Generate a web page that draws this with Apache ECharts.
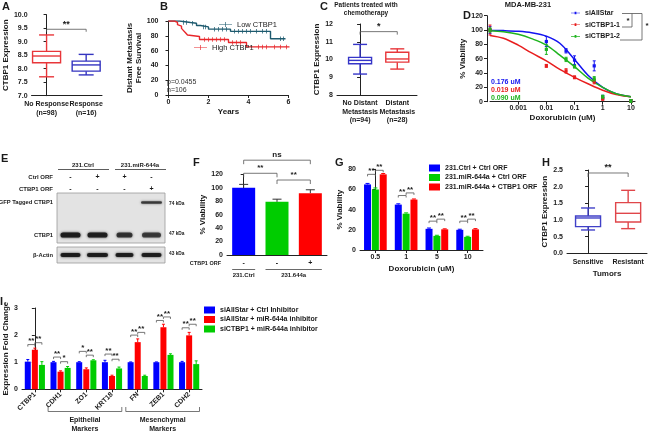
<!DOCTYPE html>
<html>
<head>
<meta charset="utf-8">
<script src="https://cdn.jsdelivr.net/npm/echarts@6.0.0/dist/echarts.min.js"></script>
<style>
html,body{margin:0;padding:0;background:#ffffff;}
#chart{width:650px;height:431px;}
</style>
</head>
<body>
<div id="chart"></div>
<script>
/* ======================= DATA ======================= */
// Panel A – CTBP1 expression box plot
const aLabels = ['No Response\n(n=98)', 'Response\n(n=16)'];
const aMin = [7.70, 7.77];
const aQ1  = [8.22, 7.91];
const aMed = [8.47, 8.14];
const aQ3  = [8.64, 8.28];
const aMax = [9.25, 8.53];

// Panel B – Kaplan-Meier (time in years, survival %)
const bLowT  = [0, 0.55, 1.1, 1.4, 1.6, 2.0, 3.1, 5.1, 5.85];
const bLowS  = [100, 98, 97, 94, 92, 89, 86, 76, 76];
const bHighT = [0, 0.3, 0.45, 0.55, 0.65, 0.75, 0.85, 0.95, 1.0, 1.55, 3.0, 3.9, 6.05];
const bHighS = [100, 98, 95, 93, 90, 87, 84, 81, 79, 75, 71, 65, 65];
const bLowCensor  = [0.75, 0.9, 1.2, 1.75, 1.85, 2.3, 2.5, 2.7, 2.9, 3.3, 3.5, 3.7, 3.9, 4.1, 4.4, 4.7, 4.9, 5.6, 5.75];
const bHighCensor = [1.8, 2.0, 2.2, 2.4, 2.6, 2.8, 3.2, 3.4, 3.6, 4.5, 4.7, 4.9, 5.3, 5.6, 5.9];

// Panel C – box plot
const cLabels = ['No Distant\nMetastasis\n(n=94)', 'Distant\nMetastasis\n(n=28)'];
const cMin = [9.18, 9.46];
const cQ1  = [9.76, 9.85];
const cMed = [9.95, 10.03];
const cQ3  = [10.12, 10.41];
const cMax = [10.85, 10.60];

// Panel D – dose response
const dNames = ['siAllStar', 'siCTBP1-1', 'siCTBP1-2'];
const dCurveX = [0.0001, 0.0003, 0.001, 0.003, 0.01, 0.03, 0.1, 0.3, 1, 3, 10];
const dCurveAllStar = [99.5, 99.2, 98.3, 96.3, 91.5, 81.5, 59, 37, 20, 11, 7];
const dCurveSi1     = [92.5, 88.5, 79, 68, 57, 45, 34, 25, 16, 10, 7];
const dCurveSi2     = [99, 97.5, 94, 88, 79, 65, 49, 33, 20, 11, 7];
const dDoseX = [0.0001, 0.01, 0.05, 0.1, 0.5, 1, 10];
const dMeanAllStar = [100, 84, 71, 58, 50, 6, 1];
const dSdAllStar   = [5, 7, 3, 6, 7, 3, 2];
const dMeanSi1     = [100, 50, 43, 34, 28, 4, 1];
const dSdSi1       = [7, 2, 3, 2, 3, 2, 2];
const dMeanSi2     = [100, 73, 59, 49, 32, 7, 1];
const dSdSi2       = [3, 7, 3, 2, 3, 2, 2];
const dIC50 = ['0.176 uM', '0.019 uM', '0.090 uM'];

// Panel E – western blot (band intensities per lane)
const eGroups = ['231.Ctrl', '231.miR-644a'];
const eCtrlOrf  = ['-', '+', '+', '-'];
const eCtbp1Orf = ['-', '-', '-', '+'];
const eRowNames = ['GFP Tagged CTBP1', 'CTBP1', '\u03b2-Actin'];
const eKda = ['74 kDa', '47 kDa', '43 kDa'];
const eBandGFP   = [0, 0, 0, 0.75];
const eBandCTBP1 = [0.95, 0.92, 0.78, 0.74];
const eBandActin = [0.95, 0.95, 0.92, 0.92];

// Panel F – viability bars
const fValues = [100, 79, 92];
const fErrHigh = [105, 83, 97];
const fCtbp1Orf = ['-', '-', '+'];
const fGroups = ['231.Ctrl', '231.644a'];

// Panel G – grouped bars
const gCats = ['0.5', '1', '5', '10'];
const gNames = ['231.Ctrl + Ctrl ORF', '231.miR-644a + Ctrl ORF', '231.miR-644a + CTBP1 ORF'];
const gCtrl  = [65, 45, 21, 20];
const gMiR   = [60, 36, 14, 13];
const gCtbp1 = [75, 50, 20.5, 20.5];
const gCtrlErr  = [66, 45.8, 21.8, 20.6];
const gMiRErr   = [61.5, 36.8, 14.6, 13.6];
const gCtbp1Err = [75.8, 50.6, 21, 21.2];
const gSigLow  = [75, 54, 28.6, 28.6];   // bracket level blue-green
const gSigHigh = [79, 56.6, 30.6, 30.6]; // bracket level green-red

// Panel H – box plot
const hLabels = ['Sensitive', 'Resistant'];
const hMin = [0.70, 0.74];
const hQ1  = [0.80, 0.94];
const hMed = [1.06, 1.20];
const hQ3  = [1.12, 1.52];
const hMax = [1.36, 1.89];

// Panel I – grouped bars
const iCats = ['CTBP1', 'CDH1', 'ZO1', 'KRT18', 'FN', 'ZEB1', 'CDH2'];
const iNames = ['siAllStar + Ctrl Inhibitor', 'siAllStar + miR-644a inhibitor', 'siCTBP1 + miR-644a inhibitor'];
const iCtrl = [1.02, 1.0, 1.0, 1.0, 1.0, 1.0, 1.0];
const iMiR  = [1.46, 0.65, 0.74, 0.49, 1.74, 2.29, 1.99];
const iSi   = [0.90, 0.79, 1.07, 0.77, 0.49, 1.27, 0.93];
const iCtrlErr = [1.10, 1.03, 1.02, 1.07, 1.01, 1.01, 1.03];
const iMiRErr  = [1.52, 0.68, 0.79, 0.52, 1.86, 2.40, 2.10];
const iSiErr   = [1.02, 0.84, 1.09, 0.82, 0.52, 1.31, 1.05];
const iSigLowTxt  = ['**', '**', '*', '**', '**', '**', '**'];
const iSigLow     = [1.65, 1.19, 1.40, 1.30, 2.00, 2.54, 2.27];
const iSigHighTxt = ['**', '*', '**', '**', '**', '**', '**'];
const iSigHigh    = [1.72, 1.02, 1.26, 1.11, 2.10, 2.67, 2.40];
const iGroupLabels = ['Epithelial\nMarkers', 'Mesenchymal\nMarkers'];

/* ======================= STYLE / LAYOUT ======================= */
const FF = 'Liberation Sans';
const INK = '#1a1a1a';
const BLUE = '#0000ff', GREEN = '#00cc00', RED = '#ff0000';
const fnt = (s, w) => (w || 'bold') + ' ' + s + 'px "' + FF + '"';

const LAY = {
  A: {left: 27, top: 14.7, width: 75, height: 81},
  B: {left: 168.5, top: 21, width: 120, height: 74},
  C: {left: 337, top: 24, width: 80, height: 71},
  D: {left: 490, top: 15.7, width: 145, height: 86},
  E: {left: 57, top: 193, width: 108, height: 70},
  F: {left: 227, top: 174.3, width: 100, height: 80.7},
  G: {left: 360, top: 169.3, width: 123, height: 80.7},
  H: {left: 567, top: 170, width: 80, height: 83.3},
  I: {left: 20.7, top: 308, width: 181.3, height: 81.3}
};
const gridKeys = ['A','B','C','D','E','F','G','H','I'];
const grids = gridKeys.map(k => Object.assign({containLabel: false}, LAY[k]));
const gi = k => gridKeys.indexOf(k);

const axLine = {show: true, lineStyle: {color: '#222', width: 1}};
const axTick = {show: true, length: 3, lineStyle: {color: '#222', width: 1}};
const axLabel = (o) => Object.assign({fontFamily: FF, fontWeight: 'bold', fontSize: 7, color: INK, margin: 4}, o || {});
const nameTS = {fontFamily: FF, fontWeight: 'bold', fontSize: 8, color: INK, lineHeight: 9};
const noSplit = {show: false};

function txt(text, x, y, o) {
  o = o || {};
  return {type: 'text', x: x, y: y, rotation: o.rot || 0, silent: true, z: 10,
    style: {text: text, font: fnt(o.size || 7, o.weight), fill: o.color || INK,
      align: o.align || 'center', verticalAlign: o.va || 'middle',
      textAlign: o.align || 'center', textVerticalAlign: o.va || 'middle', lineHeight: o.lh || undefined}};
}
function pl(points, o) {
  o = o || {};
  return {type: 'polyline', silent: true, z: 10, shape: {points: points},
    style: {stroke: o.color || '#444', lineWidth: o.lw || 0.8, fill: null}};
}

/* ======================= RENDER HELPERS ======================= */
function boxSeries(xIdx, yIdx, mins, q1, med, q3, maxs, colors, labels, yMin, boxW, capW) {
  return {
    type: 'custom', xAxisIndex: xIdx, yAxisIndex: yIdx, silent: true,
    data: mins.map((v, i) => [i, mins[i], q1[i], med[i], q3[i], maxs[i]]),
    encode: {x: 0, y: [1, 2, 3, 4, 5]},
    renderItem: function (params, api) {
      const x = api.value(0);
      const p = [1, 2, 3, 4, 5].map(k => api.coord([x, api.value(k)]));
      const cx = p[0][0];
      const col = colors[params.dataIndex];
      const st = {stroke: col, lineWidth: 1.4, fill: null};
      const base = api.coord([x, yMin]);
      return {type: 'group', children: [
        {type: 'line', shape: {x1: cx, y1: p[0][1], x2: cx, y2: p[1][1]}, style: st},
        {type: 'line', shape: {x1: cx, y1: p[3][1], x2: cx, y2: p[4][1]}, style: st},
        {type: 'line', shape: {x1: cx - capW / 2, y1: p[0][1], x2: cx + capW / 2, y2: p[0][1]}, style: st},
        {type: 'line', shape: {x1: cx - capW / 2, y1: p[4][1], x2: cx + capW / 2, y2: p[4][1]}, style: st},
        {type: 'rect', shape: {x: cx - boxW / 2, y: p[3][1], width: boxW, height: p[1][1] - p[3][1]},
          style: {stroke: col, lineWidth: 1.4, fill: '#ffffff'}},
        {type: 'line', shape: {x1: cx - boxW / 2, y1: p[2][1], x2: cx + boxW / 2, y2: p[2][1]}, style: st},
        {type: 'text', style: {text: labels[params.dataIndex], x: cx, y: base[1] + 4,
          align: 'center', verticalAlign: 'top', textAlign: 'center', textVerticalAlign: 'top',
          font: fnt(7), fill: INK, lineHeight: 8.6}}
      ]};
    }
  };
}

// brackets: items [x1, x2, yLevel, text]
function bracketSeries(xIdx, yIdx, items, dropPx, textSize, textGap) {
  return {
    type: 'custom', xAxisIndex: xIdx, yAxisIndex: yIdx, silent: true, z: 6,
    data: items.map(b => [b[0], b[1], b[2]]),
    encode: {x: [0, 1], y: 2},
    renderItem: function (params, api) {
      const b = items[params.dataIndex];
      const p1 = api.coord([api.value(0), api.value(2)]);
      const p2 = api.coord([api.value(1), api.value(2)]);
      return {type: 'group', children: [
        {type: 'polyline', shape: {points: [[p1[0], p1[1] + dropPx], p1, p2, [p2[0], p2[1] + dropPx]]},
          style: {stroke: '#555', lineWidth: 0.8, fill: null}},
        {type: 'text', style: {text: b[3], x: (p1[0] + p2[0]) / 2, y: p1[1] - textGap,
          align: 'center', verticalAlign: 'middle', textAlign: 'center', textVerticalAlign: 'middle',
          font: fnt(textSize), fill: INK}}
      ]};
    }
  };
}

// error bars (upper): items [x, value, high]
function errSeries(xIdx, yIdx, items, color, capPx) {
  return {
    type: 'custom', xAxisIndex: xIdx, yAxisIndex: yIdx, silent: true, z: 5,
    data: items,
    encode: {x: 0, y: [1, 2]},
    renderItem: function (params, api) {
      const a = api.coord([api.value(0), api.value(1)]);
      const b = api.coord([api.value(0), api.value(2)]);
      return {type: 'group', children: [
        {type: 'line', shape: {x1: a[0], y1: a[1], x2: b[0], y2: b[1]}, style: {stroke: color, lineWidth: 1}},
        {type: 'line', shape: {x1: b[0] - capPx / 2, y1: b[1], x2: b[0] + capPx / 2, y2: b[1]}, style: {stroke: color, lineWidth: 1}}
      ]};
    }
  };
}

// dose points with symmetric error: items [x, mean, low, high]
function pointSeries(name, xIdx, yIdx, xs, means, sds, color) {
  return {
    type: 'custom', name: name, xAxisIndex: xIdx, yAxisIndex: yIdx, silent: true, z: 6,
    data: xs.map((x, i) => [x, means[i], means[i] - sds[i], means[i] + sds[i]]),
    encode: {x: 0, y: [1, 2, 3]},
    renderItem: function (params, api) {
      const m = api.coord([api.value(0), api.value(1)]);
      const lo = api.coord([api.value(0), api.value(2)]);
      const hi = api.coord([api.value(0), api.value(3)]);
      const st = {stroke: color, lineWidth: 1};
      return {type: 'group', children: [
        {type: 'line', shape: {x1: m[0], y1: lo[1], x2: m[0], y2: hi[1]}, style: st},
        {type: 'line', shape: {x1: m[0] - 1.5, y1: lo[1], x2: m[0] + 1.5, y2: lo[1]}, style: st},
        {type: 'line', shape: {x1: m[0] - 1.5, y1: hi[1], x2: m[0] + 1.5, y2: hi[1]}, style: st},
        {type: 'rect', shape: {x: m[0] - 1.6, y: m[1] - 1.6, width: 3.2, height: 3.2}, style: {fill: color}}
      ]};
    }
  };
}

function stepLookup(ts, ss, t) {
  let v = ss[0];
  for (let i = 0; i < ts.length; i++) { if (ts[i] <= t) v = ss[i]; }
  return v;
}

/* ======================= AXES ======================= */
const xAxis = [];
const yAxis = [];
function addX(o) { xAxis.push(Object.assign({splitLine: noSplit}, o)); return xAxis.length - 1; }
function addY(o) { yAxis.push(Object.assign({splitLine: noSplit}, o)); return yAxis.length - 1; }

// A
const xA = addX({gridIndex: gi('A'), type: 'value', min: -0.38, max: 1.40, axisLine: axLine, axisTick: {show: false}, axisLabel: {show: false}});
const yA = addY({gridIndex: gi('A'), type: 'value', min: 7, max: 10, interval: 0.5, axisLine: axLine, axisTick: axTick,
  axisLabel: axLabel({formatter: v => v.toFixed(1)}), name: 'CTBP1 Expression', nameLocation: 'middle', nameGap: 17, nameTextStyle: nameTS});
// B
const xB = addX({gridIndex: gi('B'), type: 'value', min: 0, max: 6, interval: 2, axisLine: axLine, axisTick: axTick, axisLabel: axLabel(),
  name: 'Years', nameLocation: 'middle', nameGap: 12, nameTextStyle: nameTS});
const yB = addY({gridIndex: gi('B'), type: 'value', min: 0, max: 100, interval: 20, offset: 6, axisLine: axLine, axisTick: axTick, axisLabel: axLabel(),
  name: 'Distant Metastasis\nFree Survival', nameLocation: 'middle', nameGap: 11, nameTextStyle: nameTS});
// C
const xC = addX({gridIndex: gi('C'), type: 'value', min: -0.62, max: 1.53, axisLine: axLine, axisTick: {show: false}, axisLabel: {show: false}});
const yC = addY({gridIndex: gi('C'), type: 'value', min: 8, max: 12, interval: 1, axisLine: axLine, axisTick: axTick, axisLabel: axLabel(),
  name: 'CTBP1 Expression', nameLocation: 'middle', nameGap: 9, nameTextStyle: nameTS});
// D
const xD = addX({gridIndex: gi('D'), type: 'log', logBase: 10, min: 0.0001, max: 14, axisLine: axLine, axisTick: axTick,
  axisLabel: axLabel({margin: 3, showMinLabel: false, showMaxLabel: false, formatter: v => {
    const e = Math.log10(v);
    return (Math.abs(e - Math.round(e)) < 1e-6 && e > -3.5) ? String(+v.toPrecision(6)) : '';
  }}),
  name: 'Doxorubicin (uM)', nameLocation: 'middle', nameGap: 12, nameTextStyle: nameTS});
const yD = addY({gridIndex: gi('D'), type: 'value', min: 0, max: 120, interval: 20, offset: 3, axisLine: axLine, axisTick: axTick, axisLabel: axLabel(),
  name: '% Viability', nameLocation: 'middle', nameGap: 13, nameTextStyle: nameTS});
// E (blot, hidden axes; y unit = 1px from top)
const xE = addX({gridIndex: gi('E'), type: 'value', min: -0.5, max: 3.5, show: false});
const yE = addY({gridIndex: gi('E'), type: 'value', min: 0, max: 70, inverse: true, show: false});
// F
const xF = addX({gridIndex: gi('F'), type: 'category', data: ['231.Ctrl', '231.644a', '231.644a + CTBP1 ORF'], axisLine: axLine, axisTick: {show: false}, axisLabel: {show: false}});
const xF2 = addX({gridIndex: gi('F'), type: 'value', min: -0.5, max: 2.5, show: false});
const yF = addY({gridIndex: gi('F'), type: 'value', min: 0, max: 120, interval: 20, axisLine: axLine, axisTick: axTick, axisLabel: axLabel(),
  name: '% Viability', nameLocation: 'middle', nameGap: 15, nameTextStyle: nameTS});
// G
const xG = addX({gridIndex: gi('G'), type: 'category', data: gCats, axisLine: axLine, axisTick: Object.assign({alignWithLabel: true}, axTick), axisLabel: axLabel(),
  name: 'Doxorubicin (uM)', nameLocation: 'middle', nameGap: 14, nameTextStyle: nameTS});
const xG2 = addX({gridIndex: gi('G'), type: 'value', min: -0.5, max: 3.5, show: false});
const yG = addY({gridIndex: gi('G'), type: 'value', min: 0, max: 80, interval: 20, axisLine: axLine, axisTick: axTick, axisLabel: axLabel(),
  name: '% Viability', nameLocation: 'middle', nameGap: 11, nameTextStyle: nameTS});
// H
const xH = addX({gridIndex: gi('H'), type: 'value', min: -0.525, max: 1.47, axisLine: axLine, axisTick: {show: false}, axisLabel: {show: false},
  name: 'Tumors', nameLocation: 'middle', nameGap: 16, nameTextStyle: nameTS});
const yH = addY({gridIndex: gi('H'), type: 'value', min: 0, max: 2.5, interval: 0.5, axisLine: axLine, axisTick: axTick,
  axisLabel: axLabel({formatter: v => v.toFixed(1)}), name: 'CTBP1 Expression', nameLocation: 'middle', nameGap: 13, nameTextStyle: nameTS});
// I
const xI = addX({gridIndex: gi('I'), type: 'category', data: iCats, axisLine: axLine, axisTick: Object.assign({alignWithLabel: true}, axTick),
  axisLabel: axLabel({rotate: 45, margin: 4})});
const xI2 = addX({gridIndex: gi('I'), type: 'value', min: -0.5, max: 6.5, show: false});
const yI = addY({gridIndex: gi('I'), type: 'value', min: 0, max: 3, interval: 1, axisLine: axLine, axisTick: axTick, axisLabel: axLabel(),
  name: 'Expression Fold Change', nameLocation: 'middle', nameGap: 12, nameTextStyle: nameTS});

/* ======================= SERIES ======================= */
const series = [];

// A
series.push(boxSeries(xA, yA, aMin, aQ1, aMed, aQ3, aMax, ['#e8363a', '#3535c0'], aLabels, 7, 28, 15));
series.push(bracketSeries(xA, yA, [[0, 1, 9.46, '**']], 2.5, 9, 5));

// B
const kmLowData = bLowT.map((t, i) => [t, bLowS[i]]);
const kmHighData = bHighT.map((t, i) => [t, bHighS[i]]);
series.push({type: 'line', name: 'Low CTBP1', xAxisIndex: xB, yAxisIndex: yB, data: kmLowData, step: 'end',
  showSymbol: false, symbol: 'none', lineStyle: {color: '#1d5a6e', width: 1.4}, itemStyle: {color: '#1d5a6e'}, z: 3});
series.push({type: 'line', name: 'High CTBP1', xAxisIndex: xB, yAxisIndex: yB, data: kmHighData, step: 'end',
  showSymbol: false, symbol: 'none', lineStyle: {color: '#e8262a', width: 1.4}, itemStyle: {color: '#e8262a'}, z: 3});
series.push({type: 'scatter', name: 'Low CTBP1', xAxisIndex: xB, yAxisIndex: yB, symbol: 'rect', symbolSize: [0.9, 4.5],
  data: bLowCensor.map(t => [t, stepLookup(bLowT, bLowS, t)]), itemStyle: {color: '#1d5a6e'}, silent: true, z: 4});
series.push({type: 'scatter', name: 'High CTBP1', xAxisIndex: xB, yAxisIndex: yB, symbol: 'rect', symbolSize: [0.9, 4.5],
  data: bHighCensor.map(t => [t, stepLookup(bHighT, bHighS, t)]), itemStyle: {color: '#e8262a'}, silent: true, z: 4});

// C
series.push(boxSeries(xC, yC, cMin, cQ1, cMed, cQ3, cMax, ['#3535c8', '#e8363a'], cLabels, 8, 23, 14));
series.push(bracketSeries(xC, yC, [[0, 1, 11.57, '*']], 3, 9, 5));

// D
const dCols = ['#1414f0', '#e81e1e', '#1fb41f'];
[dCurveAllStar, dCurveSi1, dCurveSi2].forEach((ys, k) => {
  series.push({type: 'line', name: dNames[k], xAxisIndex: xD, yAxisIndex: yD, smooth: 0.35, showSymbol: false, symbol: 'none',
    data: dCurveX.map((x, i) => [x, ys[i]]), lineStyle: {color: dCols[k], width: 1.5}, itemStyle: {color: dCols[k]}, z: 3});
});
series.push(pointSeries(dNames[0], xD, yD, dDoseX, dMeanAllStar, dSdAllStar, dCols[0]));
series.push(pointSeries(dNames[1], xD, yD, dDoseX, dMeanSi1, dSdSi1, dCols[1]));
series.push(pointSeries(dNames[2], xD, yD, dDoseX, dMeanSi2, dSdSi2, dCols[2]));

// E – blot membranes and bands
const eMembranes = [[0, 50], [54, 70]];
const eRowY = [9.5, 42, 62];
const eRowH = [2.6, 5.2, 4.2];
const eRowW = [[21, 21, 21, 21], [20, 20, 16, 19], [20, 21, 18, 20]];
series.push({type: 'custom', xAxisIndex: xE, yAxisIndex: yE, silent: true, z: 1,
  data: eMembranes, encode: {y: [0, 1]},
  renderItem: function (params, api) {
    const a = api.coord([-0.5, api.value(0)]);
    const b = api.coord([3.5, api.value(1)]);
    return {type: 'rect', shape: {x: a[0], y: a[1], width: b[0] - a[0], height: b[1] - a[1]},
      style: {fill: '#e3e3e3', stroke: '#9a9a9a', lineWidth: 0.8}};
  }});
const eBandData = [];
[eBandGFP, eBandCTBP1, eBandActin].forEach((row, r) => row.forEach((v, lane) => { if (v > 0) eBandData.push([lane, r, v]); }));
series.push({type: 'custom', xAxisIndex: xE, yAxisIndex: yE, silent: true, z: 2,
  data: eBandData, encode: {x: 0},
  renderItem: function (params, api) {
    const lane = api.value(0), r = api.value(1), v = api.value(2);
    const c = api.coord([lane, eRowY[r]]);
    const w = eRowW[r][lane], h = eRowH[r];
    const col = 'rgba(25,25,25,' + v + ')';
    return {type: 'rect', shape: {x: c[0] - w / 2, y: c[1] - h / 2, width: w, height: h, r: h / 2},
      style: {fill: col, shadowBlur: 2.5, shadowColor: col}};
  }});

// F
series.push({type: 'bar', xAxisIndex: xF, yAxisIndex: yF, barWidth: 23, silent: true,
  data: fValues.map((v, i) => ({value: v, itemStyle: {color: [BLUE, GREEN, RED][i]}}))});
series.push(errSeries(xF2, yF, fValues.map((v, i) => [i, v, fErrHigh[i]]), '#333', 9));
series.push(bracketSeries(xF2, yF, [[0, 2, 141, 'ns'], [0, 1, 121.5, '**'], [1, 2, 111.5, '**']], 4, 8, 5));

// G
const gBarW = 7, gGap = 0.12;
const gCatW = LAY.G.width / gCats.length;
const gOff = gBarW * (1 + gGap) / gCatW;
const gVals = [gCtrl, gMiR, gCtbp1], gErrs = [gCtrlErr, gMiRErr, gCtbp1Err], gCols = [BLUE, GREEN, RED];
gVals.forEach((vals, k) => {
  series.push({type: 'bar', name: gNames[k], xAxisIndex: xG, yAxisIndex: yG, data: vals, barWidth: gBarW, barGap: (gGap * 100) + '%',
    barCategoryGap: '20%', itemStyle: {color: gCols[k]}, silent: true});
  series.push(errSeries(xG2, yG, vals.map((v, i) => [i + (k - 1) * gOff, v, gErrs[k][i]]), gCols[k], 4));
});
const gBr = [];
gCats.forEach((c, i) => {
  gBr.push([i - gOff, i, gSigLow[i], '**']);
  gBr.push([i, i + gOff, gSigHigh[i], '**']);
});
series.push(bracketSeries(xG2, yG, gBr, 2, 8, 3.5));

// H
series.push(boxSeries(xH, yH, hMin, hQ1, hMed, hQ3, hMax, ['#4040c8', '#e0464a'], hLabels, 0, 25, 14));
series.push(bracketSeries(xH, yH, [[0, 1, 2.41, '**']], 4, 9, 5));

// I
const iBarW = 6, iGap = 0.18;
const iCatW = LAY.I.width / iCats.length;
const iOff = iBarW * (1 + iGap) / iCatW;
const iVals = [iCtrl, iMiR, iSi], iErrs = [iCtrlErr, iMiRErr, iSiErr], iCols = [BLUE, RED, GREEN];
iVals.forEach((vals, k) => {
  series.push({type: 'bar', name: iNames[k], xAxisIndex: xI, yAxisIndex: yI, data: vals, barWidth: iBarW, barGap: (iGap * 100) + '%',
    itemStyle: {color: iCols[k]}, silent: true});
  series.push(errSeries(xI2, yI, vals.map((v, i) => [i + (k - 1) * iOff, v, iErrs[k][i]]), iCols[k], 3));
});
const iBr = [];
iCats.forEach((c, i) => {
  iBr.push([i - iOff, i, iSigLow[i], iSigLowTxt[i]]);
  iBr.push([i, i + iOff, iSigHigh[i], iSigHighTxt[i]]);
});
series.push(bracketSeries(xI2, yI, iBr, 2, 8, 3.5));

/* ======================= LEGENDS ======================= */
const kmIcon = 'path://M0,4.5H20V5.5H0Z M9.5,1H10.5V9H9.5Z';
const dIcon = 'path://M0,4.3H20V5.7H0Z M8,2H12V8H8Z';
const legTS = (w, s) => ({fontFamily: FF, fontWeight: w, fontSize: s, color: INK, padding: [0, 0, 0, 0]});
const legend = [
  {data: ['Low CTBP1'], left: 219, top: 20.5, icon: kmIcon, itemWidth: 13, itemHeight: 8, itemGap: 3, padding: 0, textStyle: legTS('normal', 7.5), selectedMode: false},
  {data: ['High CTBP1'], left: 194, top: 43.5, icon: kmIcon, itemWidth: 13, itemHeight: 8, itemGap: 3, padding: 0, textStyle: legTS('normal', 7.5), selectedMode: false},
  {data: dNames, left: 571, top: 9.5, orient: 'vertical', icon: dIcon, itemWidth: 9, itemHeight: 8, itemGap: 4.7, padding: 0, textStyle: legTS('bold', 7), selectedMode: false},
  {data: gNames, left: 429, top: 164.5, orient: 'vertical', icon: 'rect', itemWidth: 11, itemHeight: 7, itemGap: 2.5, padding: 0, textStyle: legTS('bold', 7), selectedMode: false},
  {data: iNames, left: 204, top: 306.5, orient: 'vertical', icon: 'rect', itemWidth: 11, itemHeight: 7, itemGap: 2.5, padding: 0, textStyle: legTS('bold', 7), selectedMode: false}
];

/* ======================= GRAPHIC ANNOTATIONS ======================= */
const gfx = [];
// panel letters
[['A', 2, 6.5], ['B', 160, 6.5], ['C', 320, 6.5], ['D', 463, 16], ['E', 1, 159], ['F', 193, 162.5], ['G', 335, 162.5], ['H', 542, 162.5], ['I', 0, 302]]
  .forEach(l => gfx.push(txt(l[0], l[1], l[2], {size: 11, align: 'left'})));
// B stats
gfx.push(txt('p=0.0455', 167, 82, {size: 7, weight: 'normal', align: 'left', color: '#333'}));
gfx.push(txt('n=106', 167, 90, {size: 7, weight: 'normal', align: 'left', color: '#333'}));
// C title
gfx.push(txt('Patients treated with', 366, 5, {size: 6.5}));
gfx.push(txt('chemotherapy', 366, 13, {size: 6.5}));
// D title, IC50s, stat brackets
gfx.push(txt('MDA-MB-231', 528, 5, {size: 7.5}));
dIC50.forEach((s, k) => gfx.push(txt(s, 491, 82 + 8 * k, {size: 7, align: 'left', color: dCols[k]})));
gfx.push(pl([[622, 13.5], [642, 13.5], [642, 40], [620, 40]], {color: '#555'}));
gfx.push(pl([[632, 13.5], [632, 27], [622, 27]], {color: '#555'}));
gfx.push(txt('*', 628, 21, {size: 8}));
gfx.push(txt('*', 647, 26, {size: 8}));
// E headers/labels
const eLaneX = i => LAY.E.left + LAY.E.width * (i + 0.5) / 4;
gfx.push(txt(eGroups[0], 83, 165, {size: 6}));
gfx.push(pl([[58, 169.5], [109, 169.5]], {color: '#333'}));
gfx.push(txt(eGroups[1], 140, 165, {size: 6}));
gfx.push(pl([[115, 169.5], [166, 169.5]], {color: '#333'}));
gfx.push(txt('Ctrl ORF', 53, 177, {size: 6, align: 'right'}));
gfx.push(txt('CTBP1 ORF', 53, 189, {size: 6, align: 'right'}));
eCtrlOrf.forEach((s, i) => gfx.push(txt(s, eLaneX(i), 177, {size: 7})));
eCtbp1Orf.forEach((s, i) => gfx.push(txt(s, eLaneX(i), 189, {size: 7})));
eRowNames.forEach((s, r) => gfx.push(txt(s, 53, LAY.E.top + eRowY[r], {size: 5.8, align: 'right'})));
eKda.forEach((s, r) => gfx.push(txt(s, 169, LAY.E.top + eRowY[r] + (r === 0 ? 1.5 : -1), {size: 4.8, align: 'left'})));
// F bottom labels
const fX = i => LAY.F.left + LAY.F.width * (i + 0.5) / 3;
gfx.push(txt('CTBP1 ORF', 221, 263.5, {size: 5.5, align: 'right'}));
fCtbp1Orf.forEach((s, i) => gfx.push(txt(s, fX(i), 263.5, {size: 7})));
gfx.push(pl([[fX(0) - 11.5, 269.5], [fX(0) + 11.5, 269.5]], {color: '#444'}));
gfx.push(pl([[fX(1) - 11.5, 269.5], [fX(2) + 11.5, 269.5]], {color: '#444'}));
gfx.push(txt(fGroups[0], fX(0), 275.5, {size: 6}));
gfx.push(txt(fGroups[1], (fX(1) + fX(2)) / 2, 275.5, {size: 6}));
// I group brackets
const iEdge = i => LAY.I.left + iCatW * i;
[[1, 4, iGroupLabels[0]], [4, 7, iGroupLabels[1]]].forEach(g => {
  const x1 = iEdge(g[0]) + 1.5, x2 = iEdge(g[1]) - 2.5;
  gfx.push(pl([[x1, 407], [x1, 411.5], [x2, 411.5], [x2, 407]], {color: '#555'}));
  gfx.push(txt(g[2], (x1 + x2) / 2, 424.5, {size: 7, lh: 9}));
});

/* ======================= CHART ======================= */
const chart = echarts.init(document.getElementById('chart'), null, {renderer: 'canvas', width: 650, height: 431});
chart.setOption({
  backgroundColor: '#ffffff',
  animation: false,
  textStyle: {fontFamily: FF},
  grid: grids,
  xAxis: xAxis,
  yAxis: yAxis,
  legend: legend,
  series: series,
  graphic: {elements: gfx}
});
</script>
</body>
</html>
